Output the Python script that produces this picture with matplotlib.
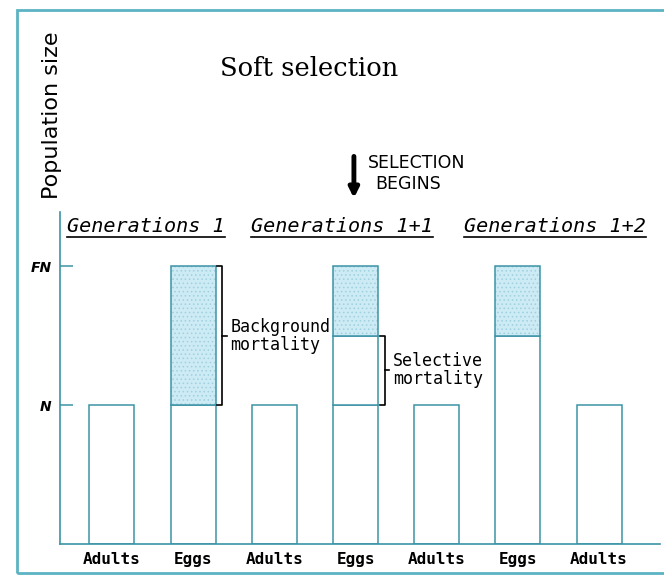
import numpy as np
import matplotlib.pyplot as plt
from matplotlib.lines import Line2D
from matplotlib.patches import Rectangle

# bar stack data (in units of N)
stages = ["Adults", "Eggs", "Adults", "Eggs", "Adults", "Eggs", "Adults"]
survivors = [1, 1, 1, 1, 1, 1.5, 1]
selective = [0, 0, 0, 0.5, 0, 0, 0]
background = [0, 1, 0, 0.5, 0, 0.5, 0]
generations = ["Generations 1", "Generations 1+1", "Generations 1+2"]
level_ticks = [1, 2]
level_labels = ["N", "FN"]

teal = '#3c93a6'
shade = '#cdebf5'
mono = 'DejaVu Sans Mono'
plt.rcParams['hatch.linewidth'] = 0.6

fig = plt.figure(figsize=(6.64, 5.75), dpi=100)
ax = fig.add_axes([60/664, 31/575, 600/664, 332/575])

x = np.arange(len(stages))
w = 0.555
surv = np.array(survivors, dtype=float)
sel = np.array(selective, dtype=float)
bg = np.array(background, dtype=float)

ax.bar(x, surv, w, color='white', edgecolor=teal, lw=1.1, zorder=2)
m = sel > 0
ax.bar(x[m], sel[m], w, bottom=surv[m], color='white', edgecolor=teal, lw=1.1, zorder=2)
m = bg > 0
ax.bar(x[m], bg[m], w, bottom=(surv + sel)[m], color=shade, edgecolor='#9fd0de',
       lw=0, hatch='....', zorder=2)
ax.bar(x[m], bg[m], w, bottom=(surv + sel)[m], fill=False, edgecolor=teal, lw=1.1, zorder=3)

ax.set_xlim(-0.64, 6.75)
ax.set_ylim(0, 2.39)
for s in ['top', 'right']:
    ax.spines[s].set_visible(False)
for s in ['left', 'bottom']:
    ax.spines[s].set_color(teal)
    ax.spines[s].set_linewidth(1.2)

ax.set_yticks(level_ticks)
ax.set_yticklabels(level_labels, fontstyle='italic', fontweight='bold', fontsize=10)
ax.tick_params(axis='y', direction='in', length=9.5, color=teal, width=1.1, pad=6)
ax.set_xticks(x)
ax.set_xticklabels(stages, fontweight='bold', fontsize=11.5, family=mono)
ax.tick_params(axis='x', length=0, pad=6)


def bracket(xb, y0, y1, text):
    ym = (y0 + y1) / 2
    ax.plot([xb - 0.06, xb, xb, xb - 0.06], [y1, y1, y0, y0], color='black', lw=1.2,
            clip_on=False, zorder=4)
    ax.plot([xb, xb + 0.06], [ym, ym], color='black', lw=1.2, clip_on=False, zorder=4)
    ax.text(xb + 0.1, ym, text, ha='left', va='center', fontsize=12, linespacing=1.0,
            family=mono, zorder=5)


# background mortality on first egg bar, selective on second
bracket(x[1] + w / 2 + 0.08, surv[1], surv[1] + bg[1], "Background\nmortality")
bracket(x[3] + w / 2 + 0.08, surv[3], surv[3] + sel[3], "Selective\nmortality")

# selection begins
ax.annotate('', xy=(x[3] - 0.02, 2.47), xytext=(x[3] - 0.02, 2.81),
            arrowprops=dict(arrowstyle='-|>', lw=3.5, color='black', mutation_scale=14),
            annotation_clip=False)
ax.text(3.15, 2.74, "SELECTION", fontsize=12.5, va='center', ha='left', clip_on=False)
ax.text(3.24, 2.59, "BEGINS", fontsize=12.5, va='center', ha='left', clip_on=False)

# titles
fig.text(309/664, 1 - 68/575, "Soft selection", family='DejaVu Serif', fontsize=18.5,
         ha='center', va='center')
fig.text(52/664, 1 - 115/575, "Population size", rotation=90, fontsize=16,
         ha='center', va='center')

gen_x = [146, 342, 555]
gen_texts = []
for gx, g in zip(gen_x, generations):
    gen_texts.append(fig.text(gx/664, 1 - 226/575, g, fontstyle='italic', fontsize=14.5,
                              family=mono, ha='center', va='center'))

fig.canvas.draw()
r = fig.canvas.get_renderer()
for t in gen_texts:
    bb = t.get_window_extent(r)
    yy = (bb.y0 - 1) / fig.bbox.height
    fig.add_artist(Line2D([bb.x0 / fig.bbox.width, bb.x1 / fig.bbox.width], [yy, yy],
                          color='black', lw=1.2, transform=fig.transFigure))

# outer frame
fig.add_artist(Rectangle((17/664, 2/575), 1, 563/575, transform=fig.transFigure,
                         fill=False, edgecolor='#5cb3c3', lw=2))

fig.savefig('out.png', dpi=100)
